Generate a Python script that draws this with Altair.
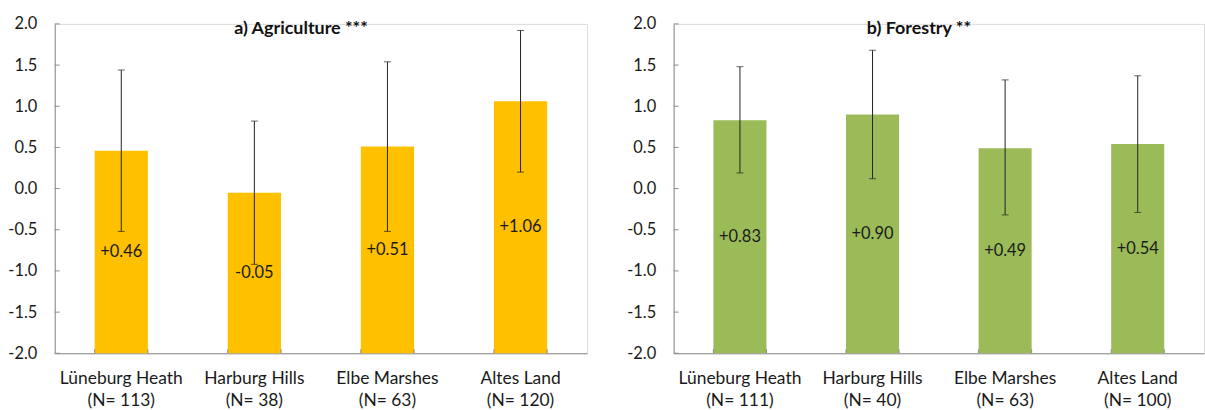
import altair as alt
import pandas as pd

# Regions surveyed and the mean change per land-use type
regions = ["Lüneburg Heath", "Harburg Hills", "Elbe Marshes", "Altes Land"]

agri_n = [113, 38, 63, 120]
agri_mean = [0.46, -0.05, 0.51, 1.06]
agri_err_low = [-0.52, -0.92, -0.52, 0.20]
agri_err_high = [1.44, 0.82, 1.54, 1.92]

forest_n = [111, 40, 63, 100]
forest_mean = [0.83, 0.90, 0.49, 0.54]
forest_err_low = [0.19, 0.12, -0.32, -0.29]
forest_err_high = [1.48, 1.68, 1.32, 1.37]

y_ticks = [-2.0, -1.5, -1.0, -0.5, 0.0, 0.5, 1.0, 1.5, 2.0]
AXIS_MIN, AXIS_MAX = -2.0, 2.0

FONT = "Lato"
AXIS_GREY = "#8c8c8c"
TEXT = "#1a1a1a"
HEIGHT = 331


def panel(title, ns, means, lows, highs, color, width, height=HEIGHT):
    df = pd.DataFrame({
        "region": [f"{r}\n(N= {n})" for r, n in zip(regions, ns)],
        "mean": means,
        "low": lows,
        "high": highs,
        "label": [f"{m:+.2f}" for m in means],
    })
    order = list(df["region"])
    x = alt.X(
        "region:N",
        sort=order,
        scale=alt.Scale(paddingInner=0.6, paddingOuter=0.3),
        axis=alt.Axis(
            title=None,
            labelAngle=0,
            labelExpr="split(datum.label, '\\n')",
            labelFont=FONT,
            labelFontSize=17.5,
            labelColor=TEXT,
            labelLineHeight=23,
            labelPadding=16,
            ticks=False,
            domainColor=AXIS_GREY,
        ),
    )
    y_scale = alt.Scale(domain=[AXIS_MIN, AXIS_MAX], nice=False, zero=False)
    y_axis = alt.Axis(
        title=None,
        values=y_ticks,
        labelExpr="datum.value < 0 ? '-' + format(-datum.value, '.1f') : format(datum.value, '.1f')",
        labelFont=FONT,
        labelFontSize=16.5,
        labelColor=TEXT,
        labelFlush=False,
        labelPadding=18,
        ticks=False,
        domainColor=AXIS_GREY,
        grid=False,
    )
    base = alt.Chart(df)
    x_plain = alt.X("region:N", sort=order)

    bars = base.mark_bar(color=color).encode(
        x=x,
        y=alt.Y("mean:Q", scale=y_scale, axis=y_axis),
        y2=alt.datum(AXIS_MIN),
    )
    whisker = base.mark_rule(color="#222222", strokeWidth=1).encode(
        x=x_plain, y="low:Q", y2="high:Q"
    )
    cap_low = base.mark_tick(color="#222222", thickness=1, size=7).encode(
        x=x_plain, y="low:Q"
    )
    cap_high = base.mark_tick(color="#222222", thickness=1, size=7).encode(
        x=x_plain, y="high:Q"
    )
    values = base.transform_calculate(
        mid=f"(datum.mean + ({AXIS_MIN})) / 2"
    ).mark_text(font=FONT, fontSize=16.5, color=TEXT).encode(
        x=x_plain, y="mid:Q", text="label:N"
    )
    # short inward ticks on the value axis
    y_tick_marks = alt.Chart(pd.DataFrame({"v": y_ticks})).mark_rule(
        color=AXIS_GREY, strokeWidth=1
    ).encode(y="v:Q", x=alt.value(0), x2=alt.value(5))
    # short upward ticks at the category boundaries
    x_tick_start = base.mark_rule(color=AXIS_GREY, strokeWidth=1).encode(
        x=alt.X("region:N", sort=order, bandPosition=0),
        y=alt.datum(AXIS_MIN),
        y2=alt.value(height - 4),
    )
    x_tick_end = base.mark_rule(color=AXIS_GREY, strokeWidth=1).encode(
        x=alt.X("region:N", sort=order, bandPosition=1),
        y=alt.datum(AXIS_MIN),
        y2=alt.value(height - 4),
    )
    heading = alt.Chart(pd.DataFrame({"t": [title]})).mark_text(
        font=FONT, fontSize=18, fontWeight="bold", color="#111111", baseline="middle"
    ).encode(
        text="t:N",
        x=alt.value(width / 2 - 20),
        y=alt.value(5),
    )
    return alt.layer(
        bars, whisker, cap_low, cap_high, values,
        y_tick_marks, x_tick_start, x_tick_end, heading,
    ).properties(width=width, height=height)


left = panel("a) Agriculture ***", agri_n, agri_mean, agri_err_low, agri_err_high,
             "#FFC000", 535)
right = panel("b) Forestry **", forest_n, forest_mean, forest_err_low, forest_err_high,
              "#9BBB59", 533)

chart = alt.hconcat(left, right, spacing=38).properties(
    padding={"left": 7, "top": 14, "right": 0, "bottom": 0}
).configure_view(stroke=None).configure(background="white")

chart.save("out.html", embed_options={"renderer": "svg", "actions": False})
